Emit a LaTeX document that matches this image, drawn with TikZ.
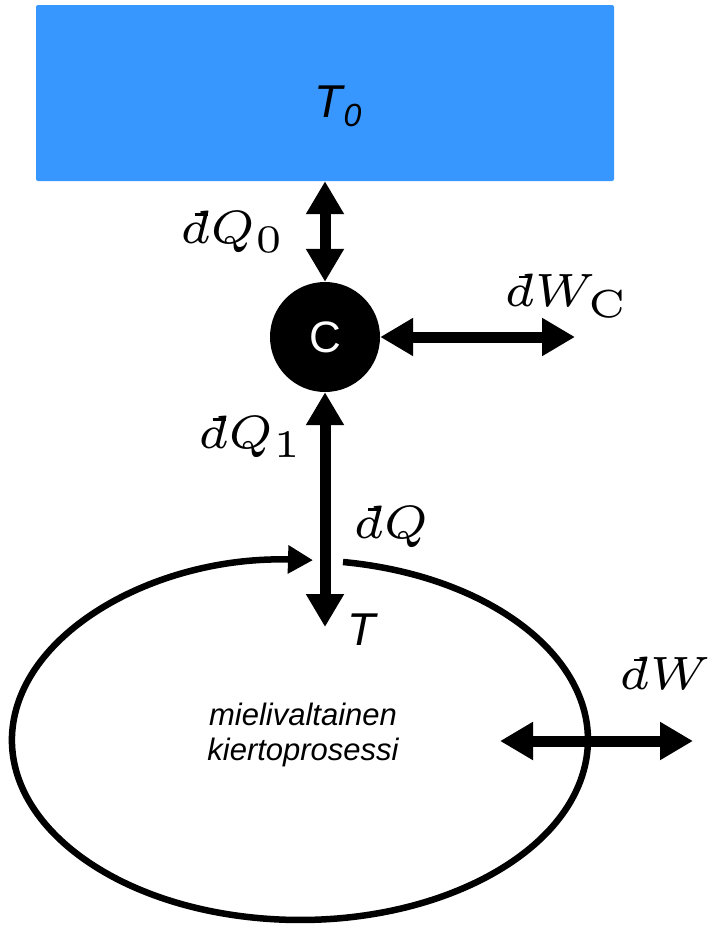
\documentclass[tikz,border=0pt]{standalone}
\usepackage{graphicx}
\usepackage{fontspec}
\newfontfamily\arialf{Liberation Sans}
\usetikzlibrary{arrows.meta}
\newcommand{\inexd}{\rlap{\kern0.31em\rule[0.6em]{0.28em}{0.05em}}d}
\newcommand{\bigmathlbl}[1]{\scalebox{7.8}{\fontsize{6}{7}\selectfont$#1$}}
\definecolor{resblue}{RGB}{55,151,254}
\tikzset{
  dbl/.style={line width=11pt,{Triangle[length=33pt,width=36pt]}-{Triangle[length=33pt,width=36pt]}},
  mlabel/.style={inner sep=0pt},
  slabel/.style={font=\arialf\itshape\fontsize{46}{50}\selectfont, inner sep=0pt},
}
\begin{document}
\begin{tikzpicture}[x=1pt,y=-1pt]
\useasboundingbox (0,0) rectangle (712,927);
% reservoir
\node[fill=resblue, rounded corners=2pt, minimum width=578pt, minimum height=176pt, inner sep=0pt] (res) at (325,93) {};
\node[slabel] (t0) at (338,106) {T\kern1pt\raisebox{-9pt}{\fontsize{32}{34}\selectfont 0}};
% carnot engine
\node[circle, fill=black, minimum size=110pt, inner sep=0pt, text=white, font=\arialf\fontsize{44}{48}\selectfont] (C) at (325,337) {C};
\coordinate (wc) at (575,337);
\coordinate (tq) at (325,627);
\coordinate (wl) at (500,741);
\coordinate (wr) at (693,741);
\draw[dbl] (res.south) -- (C.north);
\draw[dbl] (C.east) -- (wc);
\draw[dbl] (C.south) -- (tq);
% cycle
\draw[line width=6.5pt, -{Triangle[length=25pt,width=27pt]}] (343.0,562.0) arc[start angle=-81.4, end angle=272.6, x radius=288, y radius=180];
\draw[dbl] (wl) -- (wr);
% labels
\node[mlabel] (lq0) at (233,232) {\bigmathlbl{\inexd Q_0}};
\node[mlabel] (lwc) at (567,296) {\bigmathlbl{\inexd W_{\mathrm{C}}}};
\node[mlabel] (lq1) at (251,437) {\bigmathlbl{\inexd Q_1}};
\node[mlabel] (lq) at (391,527) {\bigmathlbl{\inexd Q}};
\node[slabel] (lt) at (362,630) {T};
\node[mlabel] (lw) at (665,673) {\bigmathlbl{\inexd W}};
\node[align=center, inner sep=0pt, font=\arialf\itshape\fontsize{31}{35}\selectfont] (txt) at (303,735) {mielivaltainen\\kiertoprosessi};
\end{tikzpicture}
\end{document}
